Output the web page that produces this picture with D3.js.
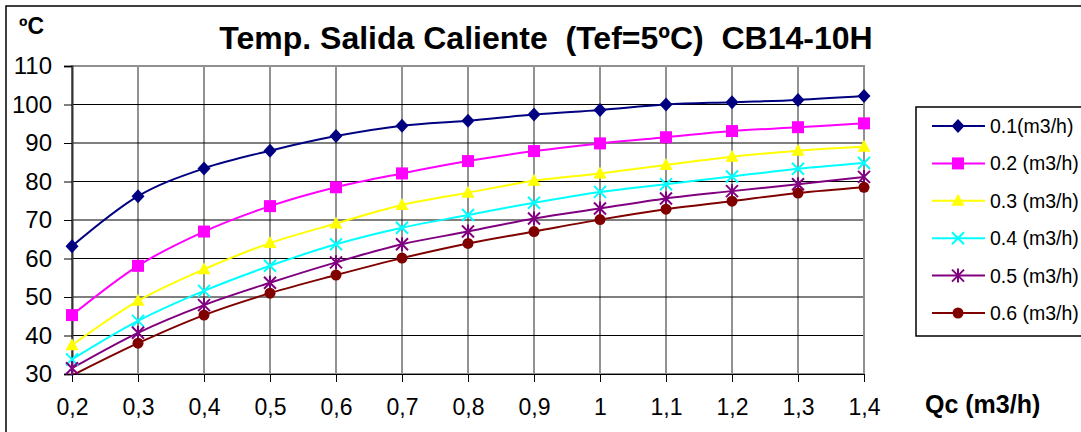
<!DOCTYPE html>
<html lang="es">
<head>
<meta charset="UTF-8">
<title>Temp. Salida Caliente CB14-10H</title>
<script src="https://d3js.org/d3.v7.min.js"></script>
<style>
  body { margin: 0; background: #fff; }
  svg { display: block; font-family: Arial, "Liberation Sans", sans-serif; }
</style>
</head>
<body>
<svg id="chart" width="1081" height="432"></svg>
<script>
// datos
const caudalQc = [0.2, 0.3, 0.4, 0.5, 0.6, 0.7, 0.8, 0.9, 1.0, 1.1, 1.2, 1.3, 1.4];
const serieNames = ["0.1(m3/h)", "0.2 (m3/h)", "0.3 (m3/h)", "0.4 (m3/h)", "0.5 (m3/h)", "0.6 (m3/h)"];
const t01 = [63.2, 76.2, 83.4, 88.0, 91.8, 94.5, 95.8, 97.4, 98.6, 100.0, 100.6, 101.2, 102.2];
const t02 = [45.3, 58.1, 67.0, 73.6, 78.5, 82.1, 85.3, 87.9, 89.9, 91.5, 93.1, 94.1, 95.1];
const t03 = [37.5, 49.0, 57.2, 64.0, 69.1, 73.9, 77.1, 80.2, 82.1, 84.3, 86.4, 88.0, 89.0];
const t04 = [33.8, 43.8, 51.6, 58.1, 63.7, 68.0, 71.3, 74.5, 77.3, 79.3, 81.3, 83.3, 84.8];
const t05 = [31.5, 40.7, 47.9, 53.7, 59.0, 63.7, 67.0, 70.4, 73.0, 75.6, 77.5, 79.3, 81.2];
const t06 = [29.6, 38.0, 45.3, 51.0, 55.7, 60.1, 63.9, 67.0, 70.1, 72.8, 74.9, 77.0, 78.5];
const yTicks = [30, 40, 50, 60, 70, 80, 90, 100, 110];

const colores = ["#000080", "#FF00FF", "#FFFF00", "#00FFFF", "#800080", "#800000"];
const marcas = ["diamond", "square", "triangle", "cross", "star", "circle"];
const series = [t01, t02, t03, t04, t05, t06].map((v, i) => ({
  name: serieNames[i], color: colores[i], mark: marcas[i],
  values: v.map((t, j) => ({ q: caudalQc[j], t: t }))
}));

const svg = d3.select("#chart");
const plot = { left: 72, right: 864, top: 66, bottom: 374 };

const x = d3.scaleLinear().domain([0.2, 1.4]).range([plot.left, plot.right]);
const y = d3.scaleLinear().domain([30, 110]).range([plot.bottom, plot.top]);

// marco exterior
svg.append("rect").attr("x", 6).attr("y", 6).attr("width", 1200).attr("height", 600)
  .attr("fill", "none").attr("stroke", "#000").attr("stroke-width", 1.5);

// titulos
svg.append("text").attr("x", 546).attr("y", 49).attr("text-anchor", "middle")
  .attr("font-size", 32).attr("font-weight", "bold")
  .style("white-space", "pre")
  .text("Temp. Salida Caliente  (Tef=5ºC)  CB14-10H");
svg.append("text").attr("x", 19).attr("y", 34)
  .attr("font-size", 23).attr("font-weight", "bold").text("ºC");
svg.append("text").attr("x", 925).attr("y", 413)
  .attr("font-size", 25).attr("font-weight", "bold").text("Qc (m3/h)");

// rejilla
svg.append("g").selectAll("line").data(caudalQc).join("line")
  .attr("x1", d => x(d)).attr("x2", d => x(d))
  .attr("y1", plot.top).attr("y2", plot.bottom)
  .attr("stroke", "#6e6e6e").attr("stroke-width", 1.5);
svg.append("g").selectAll("line").data(yTicks.slice(1, -1)).join("line")
  .attr("x1", plot.left).attr("x2", plot.right)
  .attr("y1", d => y(d)).attr("y2", d => y(d))
  .attr("stroke", "#000").attr("stroke-width", 1);

// borde del area
svg.append("rect").attr("x", plot.left).attr("y", plot.top)
  .attr("width", plot.right - plot.left).attr("height", plot.bottom - plot.top)
  .attr("fill", "none").attr("stroke", "#909090").attr("stroke-width", 2);

// ejes
const yAxis = d3.axisLeft(y).tickValues(yTicks).tickSize(8).tickPadding(12).tickFormat(d3.format("d"));
svg.append("g").attr("transform", `translate(${plot.left},0)`).call(yAxis)
  .attr("font-size", 24).attr("font-family", null)
  .call(g => g.select(".domain").attr("stroke", "#333").attr("stroke-width", 2))
  .call(g => g.selectAll(".tick line").attr("stroke", "#000"))
  .call(g => g.selectAll(".tick text").attr("fill", "#000"));

const fmtComa = d => d3.format(".1f")(d).replace(/\.0$/, "").replace(".", ",");
const xAxis = d3.axisBottom(x).tickValues(caudalQc).tickSize(8).tickPadding(17).tickFormat(fmtComa);
svg.append("g").attr("transform", `translate(0,${plot.bottom})`).call(xAxis)
  .attr("font-size", 23).attr("font-family", null)
  .call(g => g.select(".domain").attr("stroke", "#000").attr("stroke-width", 1))
  .call(g => g.selectAll(".tick line").attr("stroke", "#000"))
  .call(g => g.selectAll(".tick text").attr("fill", "#000"));

// recorte
svg.append("clipPath").attr("id", "clip").append("rect")
  .attr("x", plot.left).attr("y", plot.top)
  .attr("width", plot.right - plot.left).attr("height", plot.bottom - plot.top);

// marcadores
function drawMark(g, mark, color) {
  if (mark === "diamond") {
    g.append("path").attr("d", "M0,-7L6.5,0L0,7L-6.5,0Z").attr("fill", color);
  } else if (mark === "square") {
    g.append("rect").attr("x", -6).attr("y", -6).attr("width", 12).attr("height", 12).attr("fill", color);
  } else if (mark === "triangle") {
    g.append("path").attr("d", "M0,-7L6.5,5L-6.5,5Z").attr("fill", color);
  } else if (mark === "cross") {
    g.append("path").attr("d", "M-6,-6L6,6M-6,6L6,-6").attr("stroke", color).attr("stroke-width", 2);
  } else if (mark === "star") {
    g.append("path").attr("d", "M-6,-6L6,6M-6,6L6,-6M0,-7L0,7").attr("stroke", color).attr("stroke-width", 2);
  } else {
    g.append("circle").attr("r", 5.5).attr("fill", color);
  }
}

const line = d3.line().x(d => x(d.q)).y(d => y(d.t)).curve(d3.curveCardinal.tension(0));

const gSeries = svg.append("g");
series.forEach(s => {
  gSeries.append("path").datum(s.values).attr("d", line)
    .attr("fill", "none").attr("stroke", s.color).attr("stroke-width", 2)
    .attr("clip-path", "url(#clip)");
});
series.forEach(s => {
  gSeries.append("g").selectAll("g").data(s.values.filter(d => d.t >= 30)).join("g")
    .attr("transform", d => `translate(${x(d.q)},${y(d.t)})`)
    .each(function () { drawMark(d3.select(this), s.mark, s.color); });
});

// leyenda
const leg = svg.append("g");
leg.append("rect").attr("x", 916).attr("y", 107).attr("width", 300).attr("height", 229)
  .attr("fill", "#fff").attr("stroke", "#000").attr("stroke-width", 1.5);
const legRow = d3.scalePoint().domain(serieNames).range([126, 313]);
series.forEach(s => {
  const r = leg.append("g").attr("transform", `translate(0,${legRow(s.name)})`);
  r.append("line").attr("x1", 932).attr("x2", 985).attr("stroke", s.color).attr("stroke-width", 2);
  drawMark(r.append("g").attr("transform", "translate(958,0)"), s.mark, s.color);
  r.append("text").attr("x", 990).attr("y", 7).attr("font-size", 19.5).text(s.name);
});
</script>
</body>
</html>
